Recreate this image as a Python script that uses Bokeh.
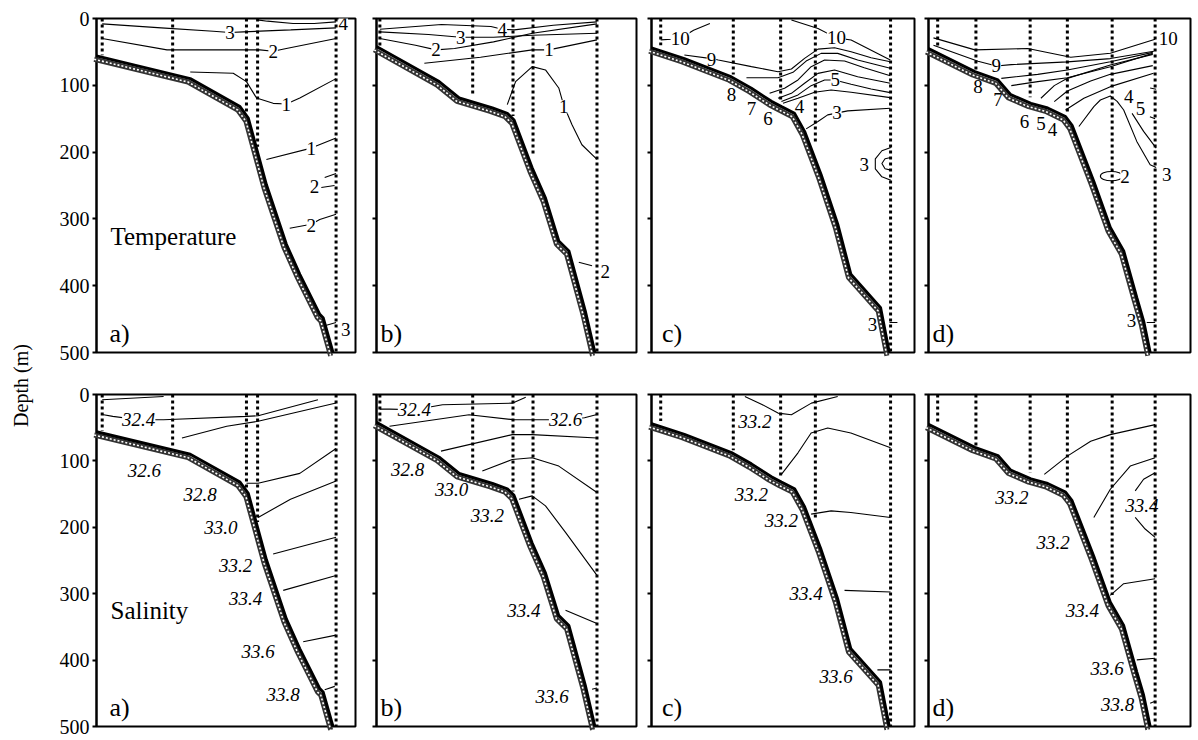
from bokeh.plotting import figure
from bokeh.models import Range1d, FixedTicker, ColumnDataSource, LabelSet, Label
from bokeh.layouts import row, column
from bokeh.embed import file_html
from bokeh.resources import INLINE

FONT = "Liberation Serif"
DEPTH_TICKS = [0, 100, 200, 300, 400, 500]
PANEL_LETTERS = ["a)", "b)", "c)", "d)"]
ROW_TITLES = ["Temperature", "Salinity"]

# ---------------- stations (distance 0-100 across panel) and cast depth (m)
STN_A_X = [2.2, 29.4, 57.9, 62.2, 92.5]
STN_A_D = [55, 80, 140, 192, 500]
STN_B_X = [1.3, 37.0, 52.5, 60.2, 84.8]
STN_B_D = [42, 116, 146, 205, 500]
STN_C_X = [3.5, 31.1, 49.1, 62.3, 90.9]
STN_C_D = [40, 84, 124, 188, 500]
STN_D_X = [3.5, 18.1, 38.8, 53.0, 70.1, 86.5]
STN_D_D = [42, 77, 118, 142, 302, 500]

# ---------------- bottom topography
BOT_A_X = [0, 36.2, 55.4, 58.6, 65.6, 73.3, 78.5, 86.2, 87.5, 91.3]
BOT_A_D = [56, 90, 132, 149, 249, 338, 383, 443, 448, 500]
BOT_B_X = [0, 24.1, 31.8, 44.6, 50.3, 52.9, 59.9, 65.0, 70.1, 74.0, 80.3, 84.0]
BOT_B_D = [42, 94.5, 119, 134, 142, 152, 224, 269, 333, 348, 438, 500]
BOT_C_X = [0, 12.5, 30.4, 38.0, 45.6, 49.4, 54.4, 58.2, 64.5, 70.8, 75.8, 87.1, 90.4]
BOT_C_D = [44, 60, 87.5, 104.5, 124, 132, 142, 169, 234, 308, 383, 433, 500]
BOT_D_X = [0, 17.7, 26.5, 31.4, 39.1, 45.5, 52.3, 54.8, 63.1, 69.4, 74.5, 79.5, 82.1, 84.6]
BOT_D_D = [45, 79.6, 92, 114, 127, 134, 147, 160, 244, 313, 348, 418, 453, 500]

# ---------------- temperature isolines (x list, depth list)
TEMP_A_LINES = [
    ([62.0, 66.0, 75.9, 84.0, 92.5], [2, 4, 7.5, 7.5, 5]),
    ([2.2, 25.0, 45.1, 51.5, 56.7, 75.0, 92.5], [8, 14, 19, 21, 20, 17, 14]),
    ([2.2, 27.2, 63.1, 68.2, 73.3, 92.5], [30, 47, 47, 49, 45, 30]),
    ([36.2, 52.8, 57.9, 61.8, 68.2, 73.3, 78.5, 92.5], [80, 82, 94.5, 119, 127, 128, 119, 90]),
    ([65.6, 82.9, 92.5], [211, 194, 179]),
    ([88.1, 92.5], [238, 232]),
    ([86.8, 91.9], [253, 250]),
    ([74.6, 82.9, 86.2, 92.5], [314, 308, 301, 293]),
    ([88.1, 92.5], [460, 455]),
]
TEMP_A_LABEL_TEXT = ["4", "3", "2", "1", "1", "2", "2", "3"]
TEMP_A_LABEL_X = [95.3, 51.5, 68.2, 73.3, 82.9, 84.2, 82.9, 96.2]
TEMP_A_LABEL_D = [7, 21, 49, 128, 194, 252, 310, 466]

TEMP_B_LINES = [
    ([1.3, 25, 44, 48.4, 53, 68, 84.8], [16, 9, 12, 16, 17, 10, 5]),
    ([1.3, 20, 32.4, 45, 60, 84.8], [20, 24, 28, 28, 25, 22]),
    ([1.3, 15, 22.9, 30, 45, 60, 84.8], [30, 40, 47, 45, 35, 22, 8]),
    ([18.4, 40, 59.9, 66.3, 84.8], [67, 58, 47, 47, 32]),
    ([50.3, 53.5, 59.9, 65.0, 70.1, 72.0, 75.2, 79.0, 84.8], [129, 94.5, 72, 77, 104, 130, 159, 189, 211]),
    ([77.8, 82.9], [365, 370]),
]
TEMP_B_LABEL_TEXT = ["4", "3", "2", "1", "1", "2"]
TEMP_B_LABEL_X = [48.4, 32.4, 22.9, 66.3, 72.0, 88.0]
TEMP_B_LABEL_D = [16, 28, 47, 47, 132, 378]

TEMP_C_LINES = [
    ([3.5, 7.5, 10.9, 16.0, 22.2], [32, 31, 30, 17.5, 7.5]),
    ([53.2, 63.3, 70.3, 75.9, 90.8], [2.2, 14.9, 29, 32.3, 62.2]),
    ([12.5, 22.8, 25.4, 38.0, 48.1, 53.2, 58.2, 63.3, 69.6, 75.9, 83.5, 90.8],
     [54.7, 60, 62.2, 72.1, 79.6, 75.6, 59.7, 45.8, 43.8, 49.7, 58.7, 64.7]),
    ([36.1, 48.1, 53.8, 58.8, 64.5, 70.8, 78.4, 90.8], [88.6, 88.6, 80.6, 63.7, 52.2, 52.2, 62.2, 74.6]),
    ([44.9, 50.6, 55.7, 60.7, 65.8, 73.4, 80.9, 90.8], [112, 104.5, 92, 72.1, 62.2, 63.7, 73.6, 85.6]),
    ([48.1, 53.2, 58.2, 63.3, 69.6, 78.4, 90.8], [119.4, 112, 97, 82.1, 77.1, 87.1, 97]),
    ([49.4, 55.7, 60.7, 65.8, 69.6, 75.9, 83.5, 90.8], [124.4, 114.4, 100.5, 92, 92, 98.5, 105.5, 111]),
    ([50.0, 55.7, 62.0, 68.3, 75.9, 90.8], [126.9, 119.4, 110.5, 107, 110.5, 118.4]),
    ([58.8, 63.3, 67.0, 74.6, 90.8], [165.2, 154.2, 144.3, 138.3, 134.3]),
    ([91.0, 87.6, 85.1, 85.1, 87.6, 91.0], [193, 198, 210, 225, 237, 242]),
    ([91.0, 88.8, 87.6, 88.8, 91.0], [208, 210, 217, 225, 227]),
    ([90.5, 93.5], [455, 455]),
]
TEMP_C_LABEL_TEXT = ["10", "10", "9", "8", "7", "6", "5", "4", "3", "3", "3"]
TEMP_C_LABEL_X = [10.9, 70.3, 22.8, 30.4, 38.0, 44.3, 69.9, 56.3, 70.5, 80.9, 84.0]
TEMP_C_LABEL_D = [30, 29, 61, 114, 134, 149, 92, 132, 141, 219, 458]

TEMP_D_LINES = [
    ([1.9, 17.7, 37.9, 54.3, 69.4, 86.5], [29, 47, 45, 58, 52, 31]),
    ([1.9, 18.9, 25.9, 31.6, 53.0, 69.4, 86.0], [40, 64, 71, 69, 65, 60, 49]),
    ([27.8, 41.7, 53.0, 69.4, 85.6], [89.6, 83.6, 77.1, 64.7, 50.7]),
    ([31.6, 41.7, 53.0, 69.4, 85.6], [100.5, 94.5, 88.6, 72.1, 52.2]),
    ([42.9, 48.0, 53.0, 69.4, 85.6], [119.4, 100.5, 89.6, 69.6, 53.7]),
    ([48.0, 53.0, 61.9, 69.4, 85.6], [124.4, 108.5, 93.5, 83.6, 70.6]),
    ([52.3, 59.3, 69.4, 85.9], [137, 119.4, 102, 82]),
    ([84.6, 86.9], [104, 106]),
    ([84.5, 86.5], [147, 150]),
    ([57.4, 63.1, 65.6, 69.4, 72.0, 74.5, 79.5, 84.6, 86.9], [161.7, 132, 122, 116, 124, 137, 184, 219, 223]),
    ([77.7, 82.1, 86.9], [142, 169, 194]),
    ([83.3, 86.5], [455, 455]),
]
TEMP_D_LABEL_TEXT = ["10", "9", "8", "7", "6", "5", "4", "4", "5", "3", "2", "3"]
TEMP_D_LABEL_X = [91.5, 25.9, 18.9, 26.5, 36.6, 42.9, 47.3, 76.4, 80.9, 90.9, 75.0, 77.5]
TEMP_D_LABEL_D = [30, 71, 102, 121, 154, 157, 166, 117, 134, 234, 236, 452]
TEMP_D_CLOSED_X = [69.8]
TEMP_D_CLOSED_D = [236]
TEMP_D_CLOSED_W = [8.4]
TEMP_D_CLOSED_H = [14]

# ---------------- salinity isolines
SAL_A_LINES = [
    ([2.2, 25.9], [8, 3]),
    ([2.2, 6.3, 16.3, 25.9, 57.9, 62.4, 85.5], [30, 33, 38, 38, 33, 32, 8]),
    ([33.0, 50.3, 62.4, 92.5], [65.4, 47.9, 40.4, 12.9]),
    ([57.9, 62.4, 78.5, 92.5], [133.7, 133.7, 118.8, 81.3]),
    ([62.4, 74.9, 92.5], [185.2, 157.7, 130.2]),
    ([68.2, 92.5], [240.1, 215.1]),
    ([72.1, 92.5], [295, 272.5]),
    ([79.8, 92.5], [372.4, 362.4]),
    ([88.1, 92.0], [444.6, 439.6]),
]
SAL_A_LABEL_TEXT = ["32.4", "32.6", "32.8", "33.0", "33.2", "33.4", "33.6", "33.8"]
SAL_A_LABEL_X = [16.3, 18.5, 40.0, 48.0, 53.7, 57.6, 62.4, 72.1]
SAL_A_LABEL_D = [38, 115, 150, 200, 257.5, 307, 387, 452]

SAL_B_LINES = [
    ([1.3, 5.0, 14.6, 25.4, 52.2, 57.4], [22, 22, 23, 15.5, 13, 4]),
    ([5.0, 35.6, 52.5, 59.9, 72.7, 80, 84.8], [47.9, 30.4, 37.9, 38, 38, 35, 30]),
    ([24.8, 52.2, 59.9, 84.8], [85.3, 60.4, 60.4, 65.4]),
    ([40.7, 52.2, 59.9, 70.1, 84.8], [115.3, 97.8, 95.3, 107.8, 147.7]),
    ([54.8, 59.9, 65.0, 72.7, 84.8], [157.7, 152.7, 167.7, 207.6, 272.5]),
    ([72.7, 84.8], [324.9, 344.9]),
    ([82.9, 84.8], [444, 442]),
]
SAL_B_LABEL_TEXT = ["32.4", "32.6", "32.8", "33.0", "33.2", "33.4", "33.6"]
SAL_B_LABEL_X = [14.6, 72.7, 12.0, 28.9, 42.6, 56.7, 67.5]
SAL_B_LABEL_D = [23, 38, 112.8, 142.7, 182.6, 324.8, 454.6]

SAL_C_LINES = [
    ([35.5, 42, 48.1, 53.2, 60.8, 70.8], [3, 15, 28, 30.4, 13, 3]),
    ([49.4, 55.7, 60.7, 67.0, 75.8, 90.9], [120.3, 87.8, 57.9, 50.4, 57.9, 80.3]),
    ([60.7, 68.3, 75.8, 90.9], [180.2, 175.2, 177.7, 185.2]),
    ([73.4, 90.9], [295, 297.5]),
    ([85.9, 90.9], [414.7, 414.7]),
]
SAL_C_LABEL_TEXT = ["33.2", "33.2", "33.2", "33.4", "33.6"]
SAL_C_LABEL_X = [39.3, 38.0, 49.4, 58.8, 70.2]
SAL_C_LABEL_D = [40.4, 150.2, 190, 299.9, 424.7]

SAL_D_LINES = [
    ([44.2, 53.0, 61.9, 69.4, 86.5], [120.3, 92.8, 70.4, 60.4, 45.4]),
    ([63.1, 69.4, 77.0, 86.5], [185.2, 142.7, 107.8, 95.3]),
    ([86.5, 82.1, 78.9], [117.8, 127.7, 145.2]),
    ([78.9, 82.7, 86.5], [185.2, 202.6, 215.1]),
    ([69.4, 74.5, 86.5], [302.4, 284.9, 277.5]),
    ([79.5, 86.5], [399.7, 397.2]),
    ([84.6, 86.5], [465, 462]),
]
SAL_D_LABEL_TEXT = ["33.2", "33.2", "33.4", "33.4", "33.6", "33.8"]
SAL_D_LABEL_X = [31.8, 47.6, 81.4, 58.7, 68.2, 72.2]
SAL_D_LABEL_D = [155.2, 222.6, 167.7, 324.8, 412.2, 467]

# ---------------- layout (pixels)
SIDE_W = 44
FRAME_W = [259, 260, 263, 262]
BORDER_L = [52, 10, 10, 10]
BORDER_R = [11, 5, 4, 4]
ROW_FRAME_H = [334, 332]
ROW_BORDER_T = [18, 22]
ROW_BORDER_B = [20, 12]
LETTER_X = [5, 1.5, 4, 1.5]

COLS = [
    (STN_A_X, STN_A_D, BOT_A_X, BOT_A_D),
    (STN_B_X, STN_B_D, BOT_B_X, BOT_B_D),
    (STN_C_X, STN_C_D, BOT_C_X, BOT_C_D),
    (STN_D_X, STN_D_D, BOT_D_X, BOT_D_D),
]
TEMP = [
    (TEMP_A_LINES, TEMP_A_LABEL_TEXT, TEMP_A_LABEL_X, TEMP_A_LABEL_D),
    (TEMP_B_LINES, TEMP_B_LABEL_TEXT, TEMP_B_LABEL_X, TEMP_B_LABEL_D),
    (TEMP_C_LINES, TEMP_C_LABEL_TEXT, TEMP_C_LABEL_X, TEMP_C_LABEL_D),
    (TEMP_D_LINES, TEMP_D_LABEL_TEXT, TEMP_D_LABEL_X, TEMP_D_LABEL_D),
]
SAL = [
    (SAL_A_LINES, SAL_A_LABEL_TEXT, SAL_A_LABEL_X, SAL_A_LABEL_D),
    (SAL_B_LINES, SAL_B_LABEL_TEXT, SAL_B_LABEL_X, SAL_B_LABEL_D),
    (SAL_C_LINES, SAL_C_LABEL_TEXT, SAL_C_LABEL_X, SAL_C_LABEL_D),
    (SAL_D_LINES, SAL_D_LABEL_TEXT, SAL_D_LABEL_X, SAL_D_LABEL_D),
]


def make_panel(r, c, contour):
    stx, std, bx, bd = COLS[c]
    lines, ltext, lx, ld = contour
    p = figure(frame_width=FRAME_W[c], frame_height=ROW_FRAME_H[r],
               min_border_left=BORDER_L[c], min_border_right=BORDER_R[c],
               min_border_top=ROW_BORDER_T[r], min_border_bottom=ROW_BORDER_B[r],
               x_range=Range1d(0, 100), y_range=Range1d(500, 0),
               x_axis_location=None, toolbar_location=None, output_backend="svg")
    p.grid.visible = False
    p.outline_line_color = "black"
    p.outline_line_width = 2
    p.outline_line_alpha = 1
    p.background_fill_color = "white"
    p.border_fill_color = "white"
    ax = p.yaxis[0]
    ax.ticker = FixedTicker(ticks=DEPTH_TICKS)
    ax.axis_line_width = 2
    ax.major_tick_out = 4
    ax.major_tick_in = 0
    ax.major_tick_line_width = 2
    ax.minor_tick_line_color = None
    ax.major_label_text_font = FONT
    ax.major_label_text_font_size = "20px"
    ax.major_label_text_color = "black"
    ax.major_label_standoff = 3
    if c != 0:
        ax.major_label_overrides = {t: "" for t in DEPTH_TICKS}
        ax.major_label_standoff = 0

    # isolines
    p.multi_line(xs=[l[0] for l in lines], ys=[l[1] for l in lines],
                 line_color="black", line_width=1.1, level="underlay")
    if r == 0 and c == 3:
        p.ellipse(x=TEMP_D_CLOSED_X, y=TEMP_D_CLOSED_D, width=TEMP_D_CLOSED_W,
                  height=TEMP_D_CLOSED_H, fill_color=None, line_color="black",
                  line_width=1.1, level="underlay")
    src = ColumnDataSource(dict(x=lx, y=ld, text=ltext))
    p.add_layout(LabelSet(x="x", y="y", text="text", source=src, level="glyph",
                          text_font=FONT, text_font_size="19px",
                          text_font_style="italic" if r == 1 else "normal",
                          text_align="center", text_baseline="middle",
                          text_color="black", background_fill_color="white"))

    # station casts (dotted)
    p.segment(x0=stx, y0=[0] * len(stx), x1=stx, y1=std, line_color="black",
              line_width=3, line_dash="3 3", level="annotation")

    # bottom: checkered band + solid edge
    bxo = [x - 0.9 for x in bx]
    bdo = [d + 5 for d in bd]
    p.line(bxo, bdo, line_color="#333333", line_width=5, level="annotation")
    p.line(bxo, bdo, line_color="white", line_width=1.6, line_dash="2 2", level="annotation")
    p.line(bx, bd, line_color="black", line_width=3, level="annotation")

    p.add_layout(Label(x=LETTER_X[c], y=472, text=PANEL_LETTERS[c], text_font=FONT,
                       text_font_size="26px", text_baseline="middle", text_color="black"))
    if c == 0:
        p.add_layout(Label(x=5.4, y=326, text=ROW_TITLES[r], text_font=FONT,
                           text_font_size="25px", text_baseline="middle", text_color="black"))
    return p


rows = []
for r, data in enumerate([TEMP, SAL]):
    rows.append(row([make_panel(r, c, data[c]) for c in range(4)]))

total_h = sum(ROW_FRAME_H) + sum(ROW_BORDER_T) + sum(ROW_BORDER_B)
side = figure(width=SIDE_W, height=total_h, x_range=Range1d(0, SIDE_W), y_range=Range1d(0, total_h),
              x_axis_location=None, y_axis_location=None, toolbar_location=None,
              output_backend="svg", min_border=0)
side.grid.visible = False
side.outline_line_color = None
side.add_layout(Label(x=20, y=total_h - 385, text="Depth (m)", angle=90, angle_units="deg",
                      text_align="center", text_baseline="middle", text_font=FONT,
                      text_font_size="20px", text_color="black"))

layout = row(side, column(rows))
open("out.html", "w").write(file_html(layout, INLINE))
